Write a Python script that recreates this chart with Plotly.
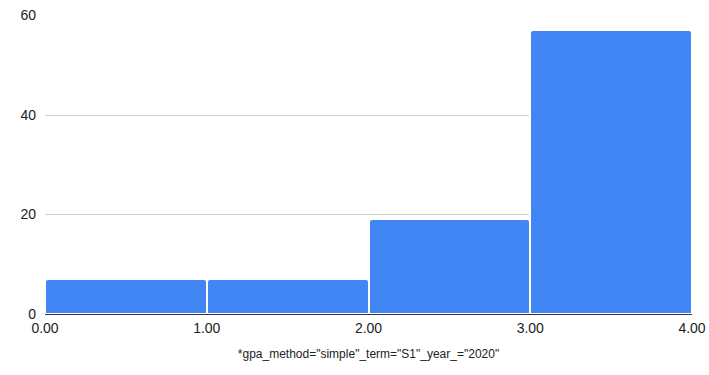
import plotly.graph_objects as go

bin_starts = [0.0, 1.0, 2.0, 3.0]
bin_width = 1.0
counts = [7, 7, 19, 57]
x_ticks = [0, 1, 2, 3, 4]
x_tick_labels = ["0.00", "1.00", "2.00", "3.00", "4.00"]
y_ticks = [0, 20, 40, 60]
x_title = '*gpa_method="simple"_term="S1"_year_="2020"'

centers = [s + bin_width / 2 for s in bin_starts]

fig = go.Figure(go.Bar(
    x=centers, y=counts, width=[bin_width] * len(counts),
    marker=dict(color="#4285F4", line=dict(color="white", width=2), cornerradius=3),
    hoverinfo="skip",
))

fig.update_layout(
    width=709, height=375,
    margin=dict(l=45, r=17, t=15, b=61),
    paper_bgcolor="white", plot_bgcolor="white",
    font=dict(family="Liberation Sans, Arial, sans-serif", color="#222", size=14),
    showlegend=False,
    bargap=0,
)
fig.update_xaxes(
    range=[0, 4], tickvals=x_ticks, ticktext=x_tick_labels,
    showgrid=False, zeroline=False, automargin=False,
    showline=True, linecolor="#333", linewidth=1,
    ticks="", tickfont=dict(size=14), ticklabelstandoff=1,
    title=dict(text=x_title, font=dict(size=12), standoff=14),
)
fig.update_yaxes(
    range=[0, 60.1], tickvals=y_ticks, automargin=False,
    showgrid=True, gridcolor="#d0d0d0", gridwidth=1,
    zeroline=False, ticks="", tickfont=dict(size=14),
    ticklabelstandoff=8,
)
fig.write_html(
    "out.html",
    config={"displayModeBar": False},
    post_script="document.body.style.margin='0';document.body.style.overflow='hidden';",
)
